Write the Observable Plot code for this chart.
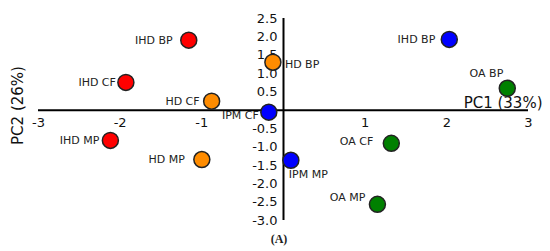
<!DOCTYPE html>
<html>
<head>
<meta charset="utf-8">
<script src="https://cdn.jsdelivr.net/npm/d3@7"></script>
<script src="https://cdn.jsdelivr.net/npm/@observablehq/plot@0.6"></script>
<style>
  html, body { margin: 0; padding: 0; background: #fff; }
  #chart svg { display: block; }
  #caption { width: 550px; text-align: center; font-family: "Liberation Serif", serif; font-weight: bold; font-size: 12px; color: #222; margin-left: 4px; line-height: 14px; }
</style>
</head>
<body>
<div id="chart"></div>
<div id="caption">(A)</div>
<script>
// ---- data ----
const labels = ["IHD BP", "IHD CF", "IHD MP", "HD BP", "HD CF", "HD MP", "IPM CF", "IPM MP", "IHD BP", "OA BP", "OA CF", "OA MP"];
const groups = ["IHD", "IHD", "IHD", "HD", "HD", "HD", "IPM", "IPM", "IPM", "OA", "OA", "OA"];
const pc1 = [-1.16, -1.93, -2.12, -0.13, -0.88, -1.00, -0.18, 0.09, 2.03, 2.74, 1.32, 1.15];
const pc2 = [1.91, 0.76, -0.82, 1.31, 0.25, -1.34, -0.05, -1.36, 1.93, 0.60, -0.90, -2.56];
const xTicks = [-3, -2, -1, 1, 2, 3];
const yTicks = [2.5, 2.0, 1.5, 1.0, 0.5, -0.5, -1.0, -1.5, -2.0, -2.5, -3.0];
const xTitle = "PC1 (33%)";
const yTitle = "PC2 (26%)";

// ---- styling ----
const groupColors = {IHD: "#ff0000", HD: "#ff8c00", IPM: "#0000ff", OA: "#008000"};
const labelPlacement = [
  {anchor: "end", dx: -16, dy: 0},
  {anchor: "end", dx: -10, dy: 0},
  {anchor: "end", dx: -11, dy: 0},
  {anchor: "start", dx: 12, dy: 2},
  {anchor: "end", dx: -12, dy: 0},
  {anchor: "end", dx: -17, dy: 0},
  {anchor: "end", dx: -10, dy: 3},
  {anchor: "start", dx: -2, dy: 14},
  {anchor: "end", dx: -14, dy: 0},
  {anchor: "end", dx: -4, dy: -15},
  {anchor: "end", dx: -18, dy: -2},
  {anchor: "end", dx: -12, dy: -7}
];

const points = labels.map((l, i) => ({label: l, group: groups[i], x: pc1[i], y: pc2[i], i}));
const font = "DejaVu Sans, Verdana, sans-serif";

const labelMarks = points.map((p, i) => Plot.text([p], {
  x: "x", y: "y", text: "label",
  textAnchor: labelPlacement[i].anchor,
  dx: labelPlacement[i].dx, dy: labelPlacement[i].dy,
  fontSize: 11, fill: "#222"
}));

const chart = Plot.plot({
  width: 550,
  height: 232,
  marginLeft: 38,
  marginRight: 22,
  marginTop: 18,
  marginBottom: 12,
  style: {fontFamily: font, background: "#fff"},
  x: {domain: [-3, 3], axis: null},
  y: {domain: [-3, 2.5], axis: null},
  color: {domain: Object.keys(groupColors), range: Object.values(groupColors)},
  marks: [
    Plot.ruleY([0], {x1: -3, x2: 3, stroke: "#000", strokeWidth: 2}),
    Plot.ruleX([0], {y1: -3, y2: 2.5, stroke: "#000", strokeWidth: 2}),
    Plot.text(xTicks, {x: d => d, y: 0, text: d => String(d), dy: 13, fontSize: 13, fill: "#111"}),
    Plot.text(yTicks, {x: 0, y: d => d, text: d => d.toFixed(1), textAnchor: "end", dx: -6, fontSize: 13, fill: "#111"}),
    Plot.text([xTitle], {x: 3, y: 0, text: d => d, textAnchor: "end", dx: 14, dy: -7, fontSize: 15, fill: "#111"}),
    Plot.text([yTitle], {frameAnchor: "left", text: d => d, rotate: -90, textAnchor: "middle", dx: -20, dy: -14, fontSize: 15, fill: "#111"}),
    ...labelMarks,
    Plot.dot(points, {x: "x", y: "y", r: 8, fill: "group", stroke: "#222", strokeWidth: 1.5})
  ]
});
document.getElementById("chart").appendChild(chart);
</script>
</body>
</html>
